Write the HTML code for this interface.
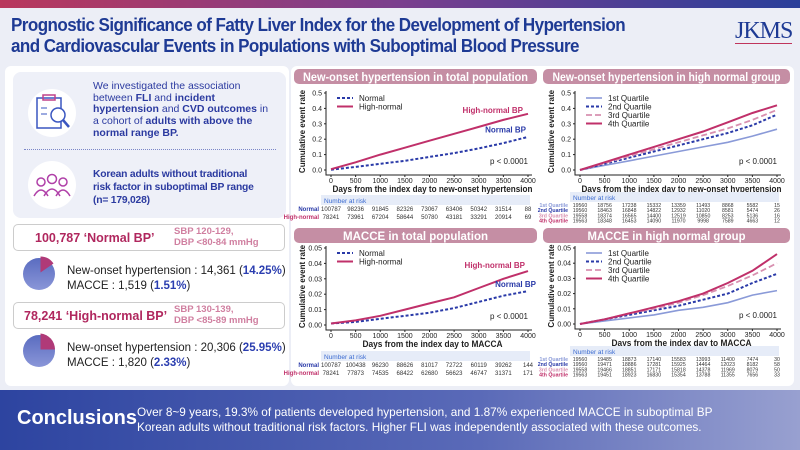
<!DOCTYPE html>
<html><head><meta charset="utf-8">
<style>
*{margin:0;padding:0;box-sizing:border-box}
body{width:800px;height:450px;overflow:hidden;background:#eceef6;font-family:"Liberation Sans",sans-serif;position:relative}
.abs{position:absolute}
.title{left:11px;top:14px;font-size:18.5px;font-weight:bold;color:#1e3a94;line-height:21px;letter-spacing:-0.6px;transform:scaleX(0.92);transform-origin:left;white-space:nowrap}
.panel{background:#fff;border-radius:6px}
.b{font-weight:bold}
.bpbox{border:1px solid #ccc;border-radius:5px;background:#fff}
.pink{color:#b0275e}
.lpink{color:#d07fa0}
.blue{color:#2b3eb0;font-weight:bold}
</style></head><body>
<div class="abs" style="left:0;top:0;width:800px;height:8px;background:linear-gradient(90deg,#b9375c,#7a3f8e,#2a3f9a)"></div>
<div class="abs title">Prognostic Significance of Fatty Liver Index for the Development of Hypertension<br>and Cardiovascular Events in Populations with Suboptimal Blood Pressure</div>
<div class="abs" style="left:735px;top:19px;font-family:'Liberation Serif',serif;font-size:24px;color:#1e3a94;letter-spacing:-1px;border-bottom:1.5px solid #c0345c;line-height:24px">JKMS</div>

<div class="abs panel" style="left:5px;top:66px;width:284px;height:320px"></div>
<div class="abs" style="left:13px;top:72px;width:273px;height:146px;background:#eef0f8;border-radius:8px"></div>
<svg class="abs" style="left:25px;top:88px" width="55" height="50" viewBox="0 0 55 50"><circle cx="27" cy="25" r="24" fill="#fff"/><rect x="12" y="10" width="24" height="30" fill="none" stroke="#3a56c0" stroke-width="1.5"/><rect x="18" y="7" width="12" height="5" fill="none" stroke="#c0408a" stroke-width="1.5"/><line x1="16" y1="20" x2="22" y2="20" stroke="#3a56c0"/><line x1="16" y1="26" x2="22" y2="26" stroke="#3a56c0"/><circle cx="33" cy="27" r="7" fill="#fff" stroke="#3a56c0" stroke-width="1.5"/><line x1="38" y1="32" x2="44" y2="39" stroke="#3a56c0" stroke-width="2.5"/></svg>
<div class="abs" style="left:93px;top:81px;font-size:10.5px;line-height:11.7px;color:#2b3aa0;width:182px">We investigated the association between <b>FLI</b> and <b>incident hypertension</b> and <b>CVD outcomes</b> in a cohort of <b>adults with above the normal range BP.</b></div>
<div class="abs" style="left:24px;top:149px;width:252px;border-top:1px dotted #7a86c8"></div>
<svg class="abs" style="left:25px;top:160px" width="55" height="50" viewBox="0 0 55 50"><circle cx="27" cy="25" r="24" fill="#fff"/><g fill="none" stroke="#b040a8" stroke-width="1.5"><circle cx="16" cy="22" r="4"/><circle cx="27" cy="19" r="4.5"/><circle cx="38" cy="22" r="4"/><path d="M9 36 q7-12 14 0 M19 36 q8-14 16 0 M31 36 q7-12 14 0"/></g></svg>
<div class="abs b" style="left:93px;top:168px;font-size:10.3px;line-height:13px;color:#2b3aa0;width:185px;letter-spacing:-0.2px">Korean adults without traditional<br>risk factor in suboptimal BP range<br>(n= 179,028)</div>

<div class="abs bpbox" style="left:13px;top:224px;width:272px;height:27px"></div>
<div class="abs b pink" style="left:35px;top:231px;font-size:12.5px">100,787 ‘Normal BP’</div>
<div class="abs b lpink" style="left:174px;top:226px;font-size:9.5px;line-height:11px">SBP 120-129,<br>DBP &lt;80-84 mmHg</div>
<svg class="abs" style="left:22px;top:256px" width="35" height="35"><defs><linearGradient id="pg" x1="0" y1="0" x2="0" y2="1"><stop offset="0" stop-color="#5a6cc0"/><stop offset="1" stop-color="#8a96d8"/></linearGradient></defs><circle cx="17" cy="18" r="16" fill="url(#pg)"/><path d="M18.5 16.5 L18.5 0.5 A16 16 0 0 1 31.5 7.5 Z" fill="#b03a78"/></svg>
<div class="abs" style="left:67px;top:264px;font-size:11.5px;line-height:15px;color:#222">New-onset hypertension : 14,361 (<span class="blue">14.25%</span>)<br>MACCE : 1,519 (<span class="blue">1.51%</span>)</div>

<div class="abs bpbox" style="left:13px;top:302px;width:272px;height:27px"></div>
<div class="abs b pink" style="left:24px;top:309px;font-size:12.5px">78,241 ‘High-normal BP’</div>
<div class="abs b lpink" style="left:174px;top:304px;font-size:9.5px;line-height:11px">SBP 130-139,<br>DBP &lt;85-89 mmHg</div>
<svg class="abs" style="left:22px;top:333px" width="35" height="35"><circle cx="17" cy="18" r="16" fill="url(#pg)"/><path d="M18.5 16.5 L18.5 0.5 A16 16 0 0 1 33 16.5 Z" fill="#b03a78"/></svg>
<div class="abs" style="left:67px;top:341px;font-size:11.5px;line-height:15px;color:#222">New-onset hypertension : 20,306 (<span class="blue">25.95%</span>)<br>MACCE : 1,820 (<span class="blue">2.33%</span>)</div>

<div class="abs panel" style="left:291px;top:66px;width:503px;height:320px"></div>
<svg id="charts" class="abs" style="left:0;top:0" width="800" height="450"></svg>

<div class="abs" style="left:0;top:390px;width:800px;height:60px;background:linear-gradient(90deg,#2d44a0,#5a6ab8 60%,#98a0d0)"></div>
<div class="abs b" style="left:17px;top:407px;font-size:20px;color:#fff">Conclusions</div>
<div class="abs" style="left:137px;top:405px;font-size:11.8px;line-height:15px;color:#fff">Over 8~9 years, 19.3% of patients developed hypertension, and 1.87% experienced MACCE in suboptimal BP<br>Korean adults without traditional risk factors. Higher FLI was independently associated with these outcomes.</div>

<script>
const xTicks=[0,500,1000,1500,2000,2500,3000,3500,4000];
const days=[0,500,1000,1500,2000,2500,3000,3500,4000];
const yTicksHtn=["0.0","0.1","0.2","0.3","0.4","0.5"];
const yTicksMac=["0.00","0.01","0.02","0.03","0.04","0.05"];
const c1Normal=[0.002,0.02,0.04,0.06,0.085,0.11,0.14,0.175,0.215];
const c1High=[0.005,0.05,0.1,0.145,0.19,0.235,0.28,0.325,0.365];
const c2Q1=[0,0.03,0.06,0.09,0.12,0.15,0.18,0.22,0.265];
const c2Q2=[0,0.04,0.08,0.12,0.16,0.2,0.24,0.29,0.36];
const c2Q3=[0,0.045,0.09,0.135,0.18,0.225,0.27,0.325,0.39];
const c2Q4=[0,0.05,0.1,0.15,0.2,0.25,0.31,0.37,0.42];
const c3Normal=[0.001,0.002,0.004,0.006,0.008,0.011,0.015,0.019,0.022];
const c3High=[0.001,0.003,0.006,0.01,0.014,0.018,0.024,0.03,0.035];
const c4Q1=[0,0.002,0.004,0.006,0.009,0.011,0.014,0.019,0.022];
const c4Q2=[0,0.003,0.006,0.009,0.012,0.016,0.02,0.027,0.033];
const c4Q3=[0,0.003,0.007,0.01,0.014,0.019,0.025,0.032,0.04];
const c4Q4=[0,0.003,0.007,0.011,0.015,0.02,0.027,0.035,0.046];
const riskC1=[["Normal","100787 98236 91845 82326 73067 63406 50342 31514 88"],["High-normal","78241 73961 67204 58644 50780 43181 33291 20914 69"]];
const riskC2=[["1st Quartile","19560 18756 17238 15332 13359 11493 8868 5582 15"],["2nd Quartile","19560 18463 16848 14822 12932 11020 8581 5474 26"],["3rd Quartile","19558 18374 16565 14400 12519 10850 8253 5136 16"],["4th Quartile","19563 18348 16453 14090 11970 9998 7589 4663 12"]];
const riskC3=[["Normal","100787 100438 96230 88626 81017 72722 60119 39262 144"],["High-normal","78241 77873 74535 68422 62680 56623 46747 31371 171"]];
const riskC4=[["1st Quartile","19560 19485 18873 17140 15583 13993 11400 7474 30"],["2nd Quartile","19560 19471 18886 17281 15925 14464 12023 8182 58"],["3rd Quartile","19558 19466 18851 17171 15818 14378 11969 8079 50"],["4th Quartile","19563 19451 18923 16830 15354 13788 11355 7656 33"]];

const NS='http://www.w3.org/2000/svg';
const svg=document.getElementById('charts');
function el(t,a,p){const e=document.createElementNS(NS,t);for(const k in a)e.setAttribute(k,a[k]);(p||svg).appendChild(e);return e;}
function txt(s,a,p){const e=el('text',a,p);e.textContent=s;return e;}

const styles={
 normal:{stroke:'#2a3aa8',dash:'3,2',w:2},
 high:{stroke:'#c0306a',dash:'',w:2},
 q1:{stroke:'#8a9ad8',dash:'',w:1.6},
 q2:{stroke:'#2a3aa8',dash:'3,2',w:2},
 q3:{stroke:'#d890b0',dash:'6,3',w:1.8},
 q4:{stroke:'#c0306a',dash:'',w:2}
};
const riskColors={"Normal":"#2a3aa8","High-normal":"#c0306a","1st Quartile":"#8a9ad8","2nd Quartile":"#2a3aa8","3rd Quartile":"#d890b0","4th Quartile":"#c0306a"};

function chart(o){
 const g=el('g',{});
 
 
 const hb=el('rect',{x:o.tx,y:o.ty,width:o.tw,height:15,rx:5,fill:'#c58ea4'},g);
 
 
 const tt=txt(o.title,{x:o.tx+o.tw/2,y:o.ty+12,'text-anchor':'middle','font-size':12,'font-weight':'bold',fill:'#fff',textLength:o.tlen,lengthAdjust:'spacingAndGlyphs'},g);
 
 
 const X=v=>o.x0+(v/4000)*(o.x1-o.x0);
 const Y=v=>o.y0-(v/o.ymax)*(o.y0-o.y1);
 const ax=el('path',{d:`M${o.x0-5} ${o.y1-2} V${o.y0+5} H${o.x1+4}`,fill:'none',stroke:'#222','stroke-width':1},g);
 
 
 o.yt.forEach((s,i)=>{const v=i*o.ymax/5;el('line',{x1:o.x0-7,x2:o.x0-5,y1:Y(v),y2:Y(v),stroke:'#222'},g);
  const t=txt(s,{x:o.x0-9,y:Y(v)+2.5,'text-anchor':'end','font-size':7,fill:'#222'},g);
  
  });
 xTicks.forEach(v=>{el('line',{x1:X(v),x2:X(v),y1:o.y0+5,y2:o.y0+7,stroke:'#222'},g);
  const t=txt(String(v),{x:X(v),y:o.y0+13,'text-anchor':'middle','font-size':7,fill:'#222'},g);
  
  });
 const yl=txt('Cumulative event rate',{transform:`translate(${o.x0-26},${(o.y0+o.y1)/2}) rotate(-90)`,'text-anchor':'middle','font-size':8,'font-weight':'bold',fill:'#222'},g);
 
 
 const xl=txt(o.xlabel,{x:(o.x0+o.x1)/2+3,y:o.y0+22,'text-anchor':'middle','font-size':9,'font-weight':'bold',fill:'#222',textLength:o.xlen,lengthAdjust:'spacingAndGlyphs'},g);
 
 
 o.series.forEach((s,si)=>{const st=styles[s.k];
  const p=el('path',{d:s.v.map((v,i)=>(i?'L':'M')+X(days[i]).toFixed(1)+' '+Y(v).toFixed(1)).join(' '),fill:'none',stroke:st.stroke,'stroke-width':st.w,'stroke-dasharray':st.dash},g);
  
  
  const ly=o.y1+5+si*8.5;
  el('line',{x1:o.x0+6,x2:o.x0+22,y1:ly,y2:ly,stroke:st.stroke,'stroke-width':st.w,'stroke-dasharray':st.dash},g);
  const lt=txt(s.label,{x:o.x0+28,y:ly+3,'font-size':8,fill:'#222'},g);
  
  
 });
 (o.ann||[]).forEach(a=>{const t=txt(a.t,{x:o.x1+a.dx,y:Y(a.y),'text-anchor':'end','font-size':8,'font-weight':'bold',fill:a.c},g);
  
  });
 const pv=txt('p < 0.0001',{x:o.x1,y:o.y0-6,'text-anchor':'end','font-size':8,fill:'#222'},g);
 
 
 const rb=el('rect',{x:o.x0-10,y:o.ry-7,width:o.x1-o.x0+12,height:10,fill:'#e6ecf8'},g);
 
 
 const rt=txt('Number at risk',{x:o.x0-7,y:o.ry+1,'font-size':6.5,fill:'#3a6ad0'},g);
 
 
 const four=o.risk.length>2;
 const rh=four?5.2:8;
 o.risk.forEach((r,ri)=>{const y=o.ry+(four?8:9)+ri*rh;
  const lab=txt(r[0],{x:o.x0-12,y:y,'text-anchor':'end','font-size':four?5.2:6,'font-weight':'bold',fill:riskColors[r[0]]},g);
  
  
  r[1].split(' ').forEach((n,i)=>{const t=txt(n,{x:X(xTicks[i]),y:y,'text-anchor':'middle','font-size':four?5.2:6,fill:'#333'},g);
   
   });
 });
}
chart({name:'chart-htn-total',title:'New-onset hypertension in total population',tlen:225,tx:294,ty:69,tw:243,x0:331,x1:528,y0:170,y1:93,ymax:0.5,yt:yTicksHtn,xlabel:'Days from the index day to new-onset hypertension',xlen:200,
 series:[{k:'normal',v:c1Normal,label:'Normal'},{k:'high',v:c1High,label:'High-normal'}],
 ann:[{t:'High-normal BP',y:0.37,c:'#c0306a',dx:-5},{t:'Normal BP',y:0.245,c:'#2a3aa8',dx:-2}],ry:202,risk:riskC1});
chart({name:'chart-htn-high-normal',title:'New-onset hypertension in high normal group',tlen:228,tx:543,ty:69,tw:247,x0:580,x1:777,y0:170,y1:93,ymax:0.5,yt:yTicksHtn,xlabel:'Days from the index day to new-onset hypertension',xlen:200,
 series:[{k:'q1',v:c2Q1,label:'1st Quartile'},{k:'q2',v:c2Q2,label:'2nd Quartile'},{k:'q3',v:c2Q3,label:'3rd Quartile'},{k:'q4',v:c2Q4,label:'4th Quartile'}],ry:199,risk:riskC2});
chart({name:'chart-macce-total',title:'MACCE in total population',tlen:145,tx:294,ty:228,tw:243,x0:331,x1:528,y0:325,y1:248,ymax:0.05,yt:yTicksMac,xlabel:'Days from the index day to MACCA',xlen:140,
 series:[{k:'normal',v:c3Normal,label:'Normal'},{k:'high',v:c3High,label:'High-normal'}],
 ann:[{t:'High-normal BP',y:0.037,c:'#c0306a',dx:-3},{t:'Normal BP',y:0.0247,c:'#2a3aa8',dx:8}],ry:358,risk:riskC3});
chart({name:'chart-macce-high-normal',title:'MACCE in high normal group',tlen:158,tx:543,ty:228,tw:247,x0:580,x1:777,y0:324,y1:248,ymax:0.05,yt:yTicksMac,xlabel:'Days from the index day to MACCA',xlen:140,
 series:[{k:'q1',v:c4Q1,label:'1st Quartile'},{k:'q2',v:c4Q2,label:'2nd Quartile'},{k:'q3',v:c4Q3,label:'3rd Quartile'},{k:'q4',v:c4Q4,label:'4th Quartile'}],ry:353,risk:riskC4});
</script>
</body></html>
